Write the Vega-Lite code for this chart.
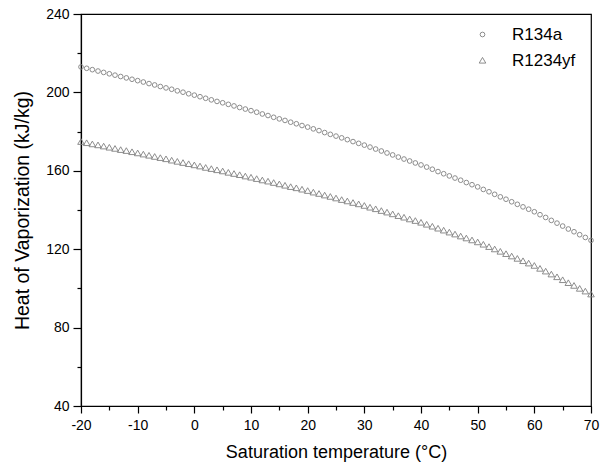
{
  "$schema": "https://vega.github.io/schema/vega-lite/v6.json",
  "autosize": {"type": "none"},
  "width": 510,
  "height": 392,
  "padding": {"left": 81, "top": 14, "right": 9, "bottom": 68},
  "background": "white",
  "config": {
    "view": {"stroke": "#000", "strokeWidth": 1.2},
    "font": "Liberation Sans",
    "axis": {
      "domainColor": "#000",
      "domainWidth": 1.2,
      "tickColor": "#000",
      "tickWidth": 1.2,
      "grid": false,
      "labelFont": "Liberation Sans",
      "titleFont": "Liberation Sans",
      "labelFontSize": 14,
      "labelColor": "#000",
      "titleColor": "#000",
      "titleFontWeight": "normal"
    }
  },
  "data": {
    "values": [
      {"T": -20, "s": "R134a", "h": 213.0}, {"T": -19, "s": "R134a", "h": 212.3}, {"T": -18, "s": "R134a", "h": 211.6}, {"T": -17, "s": "R134a", "h": 210.9}, {"T": -16, "s": "R134a", "h": 210.2}, {"T": -15, "s": "R134a", "h": 209.5}, {"T": -14, "s": "R134a", "h": 208.8}, {"T": -13, "s": "R134a", "h": 208.1}, {"T": -12, "s": "R134a", "h": 207.4}, {"T": -11, "s": "R134a", "h": 206.7},
      {"T": -10, "s": "R134a", "h": 206.0}, {"T": -9, "s": "R134a", "h": 205.3}, {"T": -8, "s": "R134a", "h": 204.5}, {"T": -7, "s": "R134a", "h": 203.8}, {"T": -6, "s": "R134a", "h": 203.0}, {"T": -5, "s": "R134a", "h": 202.3}, {"T": -4, "s": "R134a", "h": 201.6}, {"T": -3, "s": "R134a", "h": 200.8}, {"T": -2, "s": "R134a", "h": 200.1}, {"T": -1, "s": "R134a", "h": 199.3},
      {"T": 0, "s": "R134a", "h": 198.6}, {"T": 1, "s": "R134a", "h": 197.8}, {"T": 2, "s": "R134a", "h": 197.0}, {"T": 3, "s": "R134a", "h": 196.2}, {"T": 4, "s": "R134a", "h": 195.4}, {"T": 5, "s": "R134a", "h": 194.7}, {"T": 6, "s": "R134a", "h": 193.9}, {"T": 7, "s": "R134a", "h": 193.1}, {"T": 8, "s": "R134a", "h": 192.3}, {"T": 9, "s": "R134a", "h": 191.5},
      {"T": 10, "s": "R134a", "h": 190.7}, {"T": 11, "s": "R134a", "h": 189.9}, {"T": 12, "s": "R134a", "h": 189.0}, {"T": 13, "s": "R134a", "h": 188.2}, {"T": 14, "s": "R134a", "h": 187.3}, {"T": 15, "s": "R134a", "h": 186.5}, {"T": 16, "s": "R134a", "h": 185.7}, {"T": 17, "s": "R134a", "h": 184.8}, {"T": 18, "s": "R134a", "h": 184.0}, {"T": 19, "s": "R134a", "h": 183.1},
      {"T": 20, "s": "R134a", "h": 182.3}, {"T": 21, "s": "R134a", "h": 181.4}, {"T": 22, "s": "R134a", "h": 180.5}, {"T": 23, "s": "R134a", "h": 179.5}, {"T": 24, "s": "R134a", "h": 178.6}, {"T": 25, "s": "R134a", "h": 177.7}, {"T": 26, "s": "R134a", "h": 176.8}, {"T": 27, "s": "R134a", "h": 175.9}, {"T": 28, "s": "R134a", "h": 174.9}, {"T": 29, "s": "R134a", "h": 174.0},
      {"T": 30, "s": "R134a", "h": 173.1}, {"T": 31, "s": "R134a", "h": 172.1}, {"T": 32, "s": "R134a", "h": 171.1}, {"T": 33, "s": "R134a", "h": 170.1}, {"T": 34, "s": "R134a", "h": 169.1}, {"T": 35, "s": "R134a", "h": 168.1}, {"T": 36, "s": "R134a", "h": 167.0}, {"T": 37, "s": "R134a", "h": 166.0}, {"T": 38, "s": "R134a", "h": 165.0}, {"T": 39, "s": "R134a", "h": 164.0},
      {"T": 40, "s": "R134a", "h": 163.0}, {"T": 41, "s": "R134a", "h": 161.9}, {"T": 42, "s": "R134a", "h": 160.8}, {"T": 43, "s": "R134a", "h": 159.6}, {"T": 44, "s": "R134a", "h": 158.5}, {"T": 45, "s": "R134a", "h": 157.4}, {"T": 46, "s": "R134a", "h": 156.3}, {"T": 47, "s": "R134a", "h": 155.2}, {"T": 48, "s": "R134a", "h": 154.0}, {"T": 49, "s": "R134a", "h": 152.9},
      {"T": 50, "s": "R134a", "h": 151.8}, {"T": 51, "s": "R134a", "h": 150.5}, {"T": 52, "s": "R134a", "h": 149.3}, {"T": 53, "s": "R134a", "h": 148.0}, {"T": 54, "s": "R134a", "h": 146.7}, {"T": 55, "s": "R134a", "h": 145.5}, {"T": 56, "s": "R134a", "h": 144.2}, {"T": 57, "s": "R134a", "h": 142.9}, {"T": 58, "s": "R134a", "h": 141.6}, {"T": 59, "s": "R134a", "h": 140.4},
      {"T": 60, "s": "R134a", "h": 139.1}, {"T": 61, "s": "R134a", "h": 137.6}, {"T": 62, "s": "R134a", "h": 136.2}, {"T": 63, "s": "R134a", "h": 134.7}, {"T": 64, "s": "R134a", "h": 133.3}, {"T": 65, "s": "R134a", "h": 131.8}, {"T": 66, "s": "R134a", "h": 130.3}, {"T": 67, "s": "R134a", "h": 128.9}, {"T": 68, "s": "R134a", "h": 127.4}, {"T": 69, "s": "R134a", "h": 126.0},
      {"T": 70, "s": "R134a", "h": 124.5},
      {"T": -20, "s": "R1234yf", "h": 174.8}, {"T": -19, "s": "R1234yf", "h": 174.2}, {"T": -18, "s": "R1234yf", "h": 173.6}, {"T": -17, "s": "R1234yf", "h": 173.1}, {"T": -16, "s": "R1234yf", "h": 172.5}, {"T": -15, "s": "R1234yf", "h": 171.9}, {"T": -14, "s": "R1234yf", "h": 171.3}, {"T": -13, "s": "R1234yf", "h": 170.7}, {"T": -12, "s": "R1234yf", "h": 170.2}, {"T": -11, "s": "R1234yf", "h": 169.6},
      {"T": -10, "s": "R1234yf", "h": 169.0}, {"T": -9, "s": "R1234yf", "h": 168.4}, {"T": -8, "s": "R1234yf", "h": 167.8}, {"T": -7, "s": "R1234yf", "h": 167.2}, {"T": -6, "s": "R1234yf", "h": 166.6}, {"T": -5, "s": "R1234yf", "h": 166.0}, {"T": -4, "s": "R1234yf", "h": 165.3}, {"T": -3, "s": "R1234yf", "h": 164.7}, {"T": -2, "s": "R1234yf", "h": 164.1}, {"T": -1, "s": "R1234yf", "h": 163.5},
      {"T": 0, "s": "R1234yf", "h": 162.9}, {"T": 1, "s": "R1234yf", "h": 162.3}, {"T": 2, "s": "R1234yf", "h": 161.6}, {"T": 3, "s": "R1234yf", "h": 161.0}, {"T": 4, "s": "R1234yf", "h": 160.4}, {"T": 5, "s": "R1234yf", "h": 159.8}, {"T": 6, "s": "R1234yf", "h": 159.1}, {"T": 7, "s": "R1234yf", "h": 158.5}, {"T": 8, "s": "R1234yf", "h": 157.9}, {"T": 9, "s": "R1234yf", "h": 157.2},
      {"T": 10, "s": "R1234yf", "h": 156.6}, {"T": 11, "s": "R1234yf", "h": 155.9}, {"T": 12, "s": "R1234yf", "h": 155.2}, {"T": 13, "s": "R1234yf", "h": 154.6}, {"T": 14, "s": "R1234yf", "h": 153.9}, {"T": 15, "s": "R1234yf", "h": 153.2}, {"T": 16, "s": "R1234yf", "h": 152.5}, {"T": 17, "s": "R1234yf", "h": 151.8}, {"T": 18, "s": "R1234yf", "h": 151.2}, {"T": 19, "s": "R1234yf", "h": 150.5},
      {"T": 20, "s": "R1234yf", "h": 149.8}, {"T": 21, "s": "R1234yf", "h": 149.0}, {"T": 22, "s": "R1234yf", "h": 148.3}, {"T": 23, "s": "R1234yf", "h": 147.5}, {"T": 24, "s": "R1234yf", "h": 146.8}, {"T": 25, "s": "R1234yf", "h": 146.0}, {"T": 26, "s": "R1234yf", "h": 145.2}, {"T": 27, "s": "R1234yf", "h": 144.5}, {"T": 28, "s": "R1234yf", "h": 143.7}, {"T": 29, "s": "R1234yf", "h": 143.0},
      {"T": 30, "s": "R1234yf", "h": 142.2}, {"T": 31, "s": "R1234yf", "h": 141.3}, {"T": 32, "s": "R1234yf", "h": 140.5}, {"T": 33, "s": "R1234yf", "h": 139.6}, {"T": 34, "s": "R1234yf", "h": 138.8}, {"T": 35, "s": "R1234yf", "h": 137.9}, {"T": 36, "s": "R1234yf", "h": 137.0}, {"T": 37, "s": "R1234yf", "h": 136.2}, {"T": 38, "s": "R1234yf", "h": 135.3}, {"T": 39, "s": "R1234yf", "h": 134.5},
      {"T": 40, "s": "R1234yf", "h": 133.6}, {"T": 41, "s": "R1234yf", "h": 132.6}, {"T": 42, "s": "R1234yf", "h": 131.6}, {"T": 43, "s": "R1234yf", "h": 130.6}, {"T": 44, "s": "R1234yf", "h": 129.6}, {"T": 45, "s": "R1234yf", "h": 128.6}, {"T": 46, "s": "R1234yf", "h": 127.6}, {"T": 47, "s": "R1234yf", "h": 126.6}, {"T": 48, "s": "R1234yf", "h": 125.6}, {"T": 49, "s": "R1234yf", "h": 124.6},
      {"T": 50, "s": "R1234yf", "h": 123.6}, {"T": 51, "s": "R1234yf", "h": 122.4}, {"T": 52, "s": "R1234yf", "h": 121.2}, {"T": 53, "s": "R1234yf", "h": 120.0}, {"T": 54, "s": "R1234yf", "h": 118.8}, {"T": 55, "s": "R1234yf", "h": 117.6}, {"T": 56, "s": "R1234yf", "h": 116.4}, {"T": 57, "s": "R1234yf", "h": 115.2}, {"T": 58, "s": "R1234yf", "h": 114.0}, {"T": 59, "s": "R1234yf", "h": 112.8},
      {"T": 60, "s": "R1234yf", "h": 111.6}, {"T": 61, "s": "R1234yf", "h": 110.1}, {"T": 62, "s": "R1234yf", "h": 108.7}, {"T": 63, "s": "R1234yf", "h": 107.2}, {"T": 64, "s": "R1234yf", "h": 105.8}, {"T": 65, "s": "R1234yf", "h": 104.3}, {"T": 66, "s": "R1234yf", "h": 102.8}, {"T": 67, "s": "R1234yf", "h": 101.4}, {"T": 68, "s": "R1234yf", "h": 99.9}, {"T": 69, "s": "R1234yf", "h": 98.5},
      {"T": 70, "s": "R1234yf", "h": 97.0}
    ]
  },
  "mark": {"type": "point", "filled": false, "strokeWidth": 0.9, "size": 22, "opacity": 1, "color": "#808080"},
  "encoding": {
    "x": {
      "field": "T", "type": "quantitative",
      "scale": {"domain": [-20, 70], "nice": false, "zero": false},
      "axis": {
        "title": "Saturation temperature (°C)",
        "titleFontSize": 18,
        "titlePadding": 11,
        "values": [-20, -15, -10, -5, 0, 5, 10, 15, 20, 25, 30, 35, 40, 45, 50, 55, 60, 65, 70],
        "labelExpr": "datum.value % 10 === 0 ? toString(datum.value) : ''",
        "tickSize": {"condition": {"test": "datum.value % 10 === 0", "value": 7}, "value": 4},
        "labelPadding": 5,
        "labelFlush": false
      }
    },
    "y": {
      "field": "h", "type": "quantitative",
      "scale": {"domain": [40, 240], "nice": false, "zero": false},
      "axis": {
        "title": "Heat of Vaporization (kJ/kg)",
        "titleFontSize": 19.5,
        "titlePadding": 13,
        "values": [40, 60, 80, 100, 120, 140, 160, 180, 200, 220, 240],
        "labelExpr": "datum.value % 40 === 0 ? datum.label : ''",
        "tickSize": {"condition": {"test": "datum.value % 40 === 0", "value": 8}, "value": 4},
        "labelPadding": 4,
        "labelFlush": false
      }
    },
    "shape": {
      "field": "s", "type": "nominal",
      "scale": {"domain": ["R134a", "R1234yf"], "range": ["circle", "M0,-1.3L1.4,1.1L-1.4,1.1Z"]},
      "legend": {
        "title": null,
        "orient": "none",
        "legendX": 393,
        "legendY": 12,
        "labelFontSize": 17,
        "labelFont": "Liberation Sans",
        "labelColor": "#000",
        "labelOffset": 21,
        "rowPadding": 8,
        "symbolSize": 22,
        "symbolStrokeWidth": 0.9,
        "symbolStrokeColor": "#808080",
        "symbolFillColor": "transparent"
      }
    }
  }
}
